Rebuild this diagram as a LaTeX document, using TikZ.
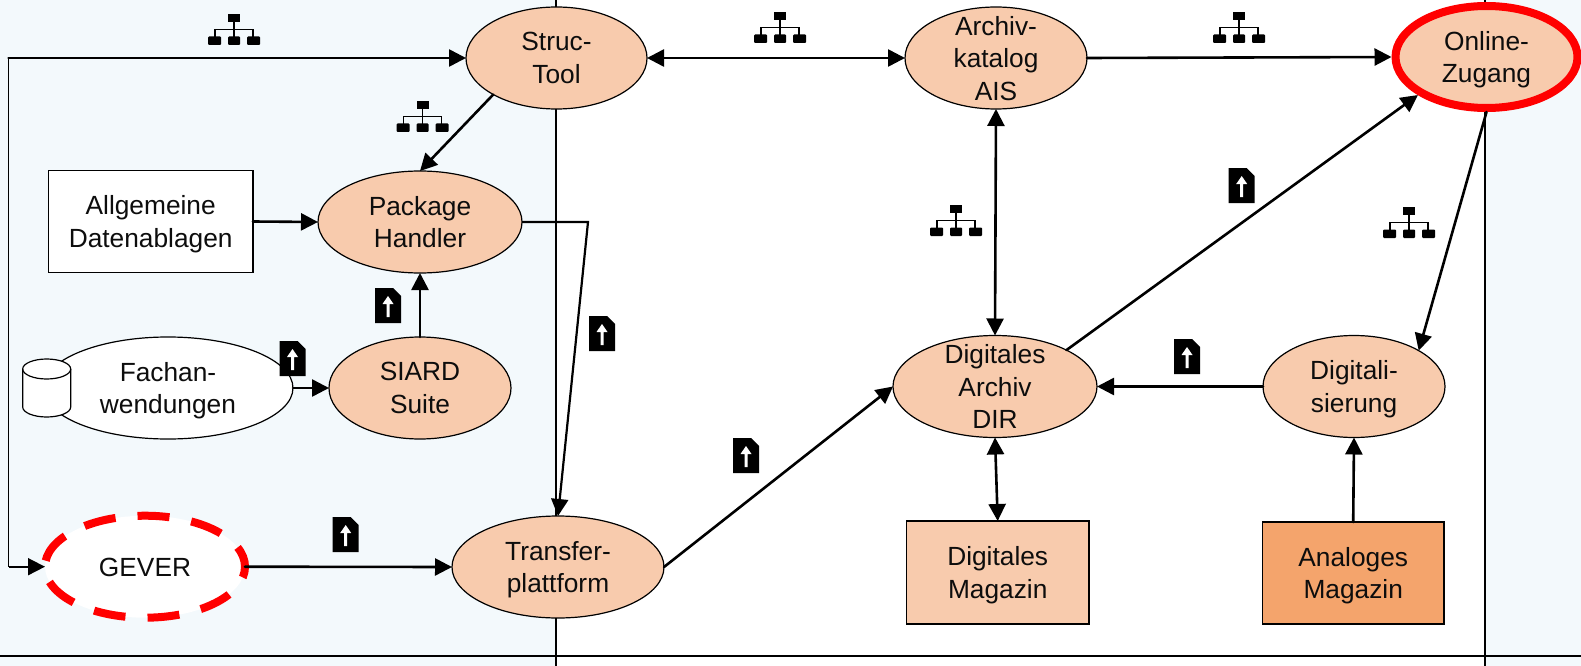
\documentclass[tikz,border=0pt]{standalone}
\usepackage{fontspec}
\setmainfont{Liberation Sans}
\usetikzlibrary{arrows.meta,shapes.geometric}
\definecolor{paleblue}{HTML}{F3F9FC}
\definecolor{peach}{HTML}{F8CBAD}
\definecolor{deeporange}{HTML}{F4A46C}
\definecolor{inktext}{HTML}{0D0D0D}
\tikzset{
  lbl/.style={font=\fontsize{26.3}{32.5}\selectfont,text=inktext,align=center,inner sep=0pt,outer sep=0pt,text depth=0pt},
  shrunk/.style={inner xsep=-10pt,inner ysep=-22pt},
  oval/.style={lbl,shrunk,ellipse,draw=black,line width=1.2pt,fill=peach,minimum width=#1*2pt,minimum height=102pt},
  oval/.default=91,
  whiteoval/.style={lbl,shrunk,ellipse,draw=black,line width=1.2pt,fill=white,minimum width=250pt,minimum height=102pt},
  gever/.style={lbl,shrunk,ellipse,draw=red,fill=white,line width=8pt,minimum width=200pt,minimum height=102pt,dash pattern=on 32pt off 22.1pt,dash phase=11pt},
  online/.style={lbl,shrunk,ellipse,draw=red,fill=peach,line width=8pt,minimum width=182pt,minimum height=102pt,outer sep=4pt},
  box/.style={lbl,rectangle,draw=black,line width=1.1pt},
  conn/.style={line width=2.6pt,line cap=round,line join=miter,-{Triangle[length=17pt,width=17pt]}},
  biconn/.style={line width=2.6pt,{Triangle[length=17pt,width=17pt]}-{Triangle[length=17pt,width=17pt]}},
  lane/.style={line width=2pt,black},
  neticon/.pic={
    \fill[black] (-6,0) rectangle (6,8);
    \fill[black,rounded corners=1pt] (-26,22.5) rectangle (-13,31);
    \fill[black,rounded corners=1pt] (-6,22.5) rectangle (6,31);
    \fill[black,rounded corners=1pt] (13,22.5) rectangle (26,31);
    \draw[black,line width=1.2pt] (0,8) -- (0,23);
    \draw[black,line width=1.2pt] (-19,24) -- (-19,15.5) -- (19,15.5) -- (19,24);
  },
  docicon/.pic={
    \fill[black] (0,0) -- (18,0) -- (26,8) -- (26,35) -- (0,35) -- cycle;
    \fill[white] (13,8) -- (18.5,16) -- (14.5,16) -- (14.5,29) -- (11.5,29) -- (11.5,16) -- (7.5,16) -- cycle;
  }
}
\begin{document}
\begin{tikzpicture}[x=1pt,y=-1pt]
\useasboundingbox (0,0) rectangle (1581,666);
\fill[paleblue] (0,0) rectangle (555.5,666);
\fill[white] (555.5,0) rectangle (1485,666);
\fill[paleblue] (1485,0) rectangle (1581,666);
% swimlane lines
\coordinate (laneAtop) at (555.5,0);
\coordinate (laneAbot) at (555.5,666);
\coordinate (laneBtop) at (1485,0);
\coordinate (laneBbot) at (1485,666);
\coordinate (laneCl) at (0,656);
\coordinate (laneCr) at (1581,656);
\draw[lane] (laneAtop) -- (laneAbot);
\draw[lane] (laneBtop) -- (laneBbot);
\draw[lane] (laneCl) -- (laneCr);
% nodes
\node[oval=90.5] (struc) at (556.5,58) {Struc-\\Tool};
\node[oval=102] (pack) at (420,222) {Package\\Handler};
\node[box,fill=white,minimum width=204.5pt,minimum height=102.5pt] (ablage) at (150.7,221.5) {Allgemeine\\Datenablagen};
\node[whiteoval] (fach) at (168,388) {Fachan-\\wendungen};
\draw[black,line width=1.2pt,fill=white] (22.7,407) arc[start angle=180,end angle=360,x radius=24pt,y radius=10pt] -- (70.7,369) arc[start angle=0,end angle=180,x radius=24pt,y radius=10pt] -- cycle;
\draw[black,line width=1.2pt] (22.7,369) arc[start angle=180,end angle=360,x radius=24pt,y radius=10pt];
\node[oval=91] (siard) at (420,388) {SIARD\\Suite};
\node[gever] (gev) at (145,566.7) {\raisebox{-2pt}{GEVER}};
\node[oval=106] (trans) at (558,567) {Transfer-\\plattform};
\node[oval=91] (archiv) at (996,58) {Archiv-\\katalog\\AIS};
\node[online] (onl) at (1486.5,57) {Online-\\Zugang};
\node[oval=102] (dir) at (995,386.5) {Digitales\\Archiv\\DIR};
\node[oval=91] (digi) at (1354,386.5) {Digitali-\\sierung};
\node[box,fill=peach,minimum width=182.5pt,minimum height=103pt] (dmag) at (997.7,572.5) {Digitales\\Magazin};
\node[box,fill=deeporange,minimum width=181.5pt,minimum height=102pt] (amag) at (1353.2,573) {Analoges\\Magazin};
% connectors
\coordinate (cornerTop) at (8.5,58);
\coordinate (cornerBot) at (8.5,566.7);
\coordinate (bend) at (588,222);
\draw[line width=1.7pt] (cornerTop) -- (cornerBot);
\draw[conn] (cornerTop) -- (struc.west);
\draw[line width=1.7pt,-{Triangle[length=17pt,width=17pt]}] (cornerBot) -- (gev.west);
\draw[biconn] (struc.east) -- (archiv.west);
\draw[conn] (archiv.east) -- (onl.west);
\draw[conn] (struc.210) -- (pack.north);
\draw[conn] (ablage.east) -- (pack.west);
\draw[conn] (siard.north) -- (pack.south);
\draw[conn] (fach.east) -- (siard.west);
\draw[line width=2.2pt,-{Triangle[length=17pt,width=17pt]}] (pack.east) -- (bend) -- (trans.north);
\draw[conn] (gev.east) -- (trans.west);
\draw[conn] (trans.east) -- (dir.west);
\draw[conn] (dir.27) -- (onl.209);
\draw[biconn] (archiv.south) -- (dir.north);
\draw[biconn] (dir.south) -- (dmag.north);
\draw[conn] (digi.west) -- (dir.east);
\draw[conn] (amag.north) -- (digi.south);
\draw[conn] (onl.south) -- (digi.29);
% icons
\pic at (234,14) {neticon};
\pic at (422.7,101) {neticon};
\pic at (780,12) {neticon};
\pic at (1239,12) {neticon};
\pic at (956,205) {neticon};
\pic at (1409,207) {neticon};
\pic at (375,288) {docicon};
\pic at (279.5,341) {docicon};
\pic at (332.7,517) {docicon};
\pic at (1228.7,168) {docicon};
\pic at (589,316) {docicon};
\pic at (733,438) {docicon};
\pic at (1174,339) {docicon};
\end{tikzpicture}
\end{document}
